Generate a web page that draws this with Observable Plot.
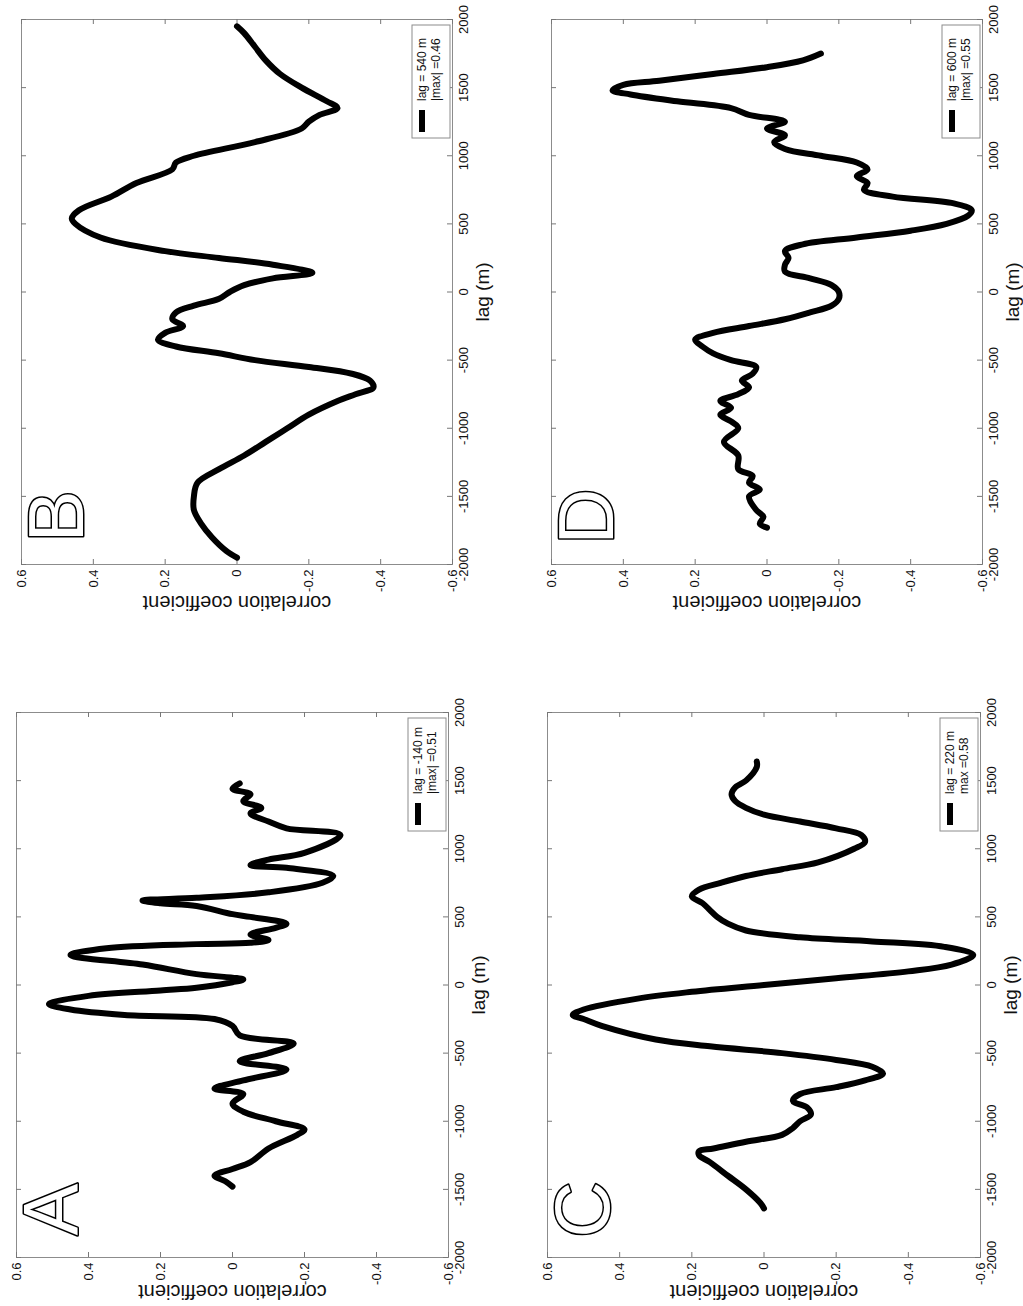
<!DOCTYPE html>
<html><head><meta charset="utf-8">
<script src="https://cdn.jsdelivr.net/npm/d3@7"></script>
<script src="https://cdn.jsdelivr.net/npm/@observablehq/plot@0.6"></script>
<style>
body{margin:0;background:#fff;}
#wrap{position:relative;width:1023px;height:1306px;overflow:hidden;background:#fff;}
.panel{position:absolute;}
</style></head><body><div id="wrap"></div>
<script>
// ---- tick values / labels ----
const corrTicks = [0.6, 0.4, 0.2, 0, -0.2, -0.4, -0.6];
const corrTickLabels = ["0.6", "0.4", "0.2", "0", "-0.2", "-0.4", "-0.6"];
const lagTicks = [-2000, -1500, -1000, -500, 0, 500, 1000, 1500, 2000];
const lagTickLabels = ["-2000", "-1500", "-1000", "-500", "0", "500", "1000", "1500", "2000"];
const xLabel = "correlation coefficient";
const yLabel = "lag (m)";

// ---- panel texts ----
const panelLetters = ["B", "D", "A", "C"];
const legendLine1 = ["lag = 540 m", "lag = 600 m", "lag = -140 m", "lag = 220 m"];
const legendLine2 = ["|max| =0.46", "|max| =0.55", "|max| =0.51", "max =0.58"];

// ---- series (lag in m, correlation coefficient) ----
const lagB = [-1950,-1900,-1800,-1700,-1600,-1500,-1400,-1300,-1200,-1100,-1000,-900,-800,-750,-700,-650,-600,-550,-500,-450,-400,-350,-300,-250,-200,-150,-100,-50,0,50,100,140,200,250,300,400,500,540,600,700,800,900,950,1000,1100,1200,1250,1300,1350,1400,1500,1600,1700,1800,1900,1950];
const corrB = [0.0,0.03,0.07,0.10,0.12,0.12,0.11,0.05,-0.02,-0.08,-0.14,-0.20,-0.28,-0.33,-0.38,-0.37,-0.32,-0.20,-0.05,0.05,0.17,0.22,0.20,0.15,0.18,0.17,0.12,0.05,0.02,-0.02,-0.10,-0.21,-0.10,0.05,0.20,0.38,0.45,0.46,0.44,0.35,0.28,0.18,0.17,0.12,-0.05,-0.18,-0.20,-0.23,-0.28,-0.25,-0.18,-0.12,-0.08,-0.05,-0.02,0.0];

const lagD = [-1730,-1700,-1650,-1600,-1500,-1450,-1400,-1350,-1300,-1200,-1100,-1000,-950,-900,-850,-800,-750,-700,-650,-600,-550,-500,-450,-400,-350,-300,-250,-200,-150,-100,-50,0,50,100,150,200,250,300,350,400,450,500,560,600,650,700,750,800,850,900,950,1000,1050,1100,1150,1200,1250,1300,1350,1400,1450,1480,1520,1550,1600,1650,1700,1750];
const corrD = [0.0,0.02,0.01,0.03,0.05,0.02,0.05,0.04,0.08,0.08,0.12,0.08,0.10,0.13,0.10,0.13,0.08,0.05,0.07,0.04,0.03,0.10,0.15,0.18,0.20,0.15,0.05,-0.05,-0.12,-0.18,-0.20,-0.20,-0.18,-0.12,-0.05,-0.05,-0.06,-0.05,-0.10,-0.25,-0.40,-0.50,-0.56,-0.57,-0.52,-0.35,-0.27,-0.28,-0.25,-0.28,-0.25,-0.15,-0.05,-0.02,-0.05,0.0,-0.05,0.05,0.10,0.25,0.38,0.43,0.40,0.30,0.15,0.0,-0.10,-0.15];

const lagA = [-1480,-1440,-1400,-1350,-1300,-1200,-1100,-1060,-1000,-930,-870,-800,-760,-700,-620,-560,-500,-430,-370,-300,-250,-220,-180,-140,-80,-40,-20,20,40,80,150,220,270,300,310,330,370,420,450,500,520,580,600,620,640,680,750,800,860,880,920,970,1100,1150,1200,1260,1300,1350,1400,1440,1480];
const corrA = [0.0,0.02,0.05,0.0,-0.05,-0.10,-0.18,-0.20,-0.12,-0.03,0.0,-0.03,0.05,-0.03,-0.15,-0.02,-0.10,-0.17,-0.02,0.0,0.05,0.30,0.45,0.51,0.40,0.20,0.10,0.0,-0.03,0.10,0.25,0.45,0.35,0.10,-0.05,-0.10,-0.05,-0.12,-0.15,-0.05,0.0,0.10,0.20,0.25,0.10,-0.10,-0.25,-0.28,-0.15,-0.05,-0.10,-0.20,-0.30,-0.15,-0.10,-0.05,-0.08,-0.03,-0.05,0.0,-0.02];

const lagC = [-1640,-1600,-1500,-1400,-1300,-1250,-1220,-1200,-1150,-1100,-1050,-1000,-950,-900,-850,-800,-750,-700,-650,-600,-550,-500,-450,-400,-300,-250,-220,-180,-100,-50,0,50,100,150,220,280,320,350,400,450,500,550,600,650,700,750,800,850,900,1000,1050,1100,1150,1200,1250,1300,1350,1400,1450,1500,1600,1640];
const corrC = [0.0,0.01,0.05,0.10,0.15,0.18,0.18,0.14,0.05,-0.05,-0.08,-0.10,-0.13,-0.12,-0.08,-0.10,-0.20,-0.28,-0.33,-0.30,-0.20,-0.05,0.15,0.30,0.45,0.50,0.53,0.50,0.35,0.20,0.0,-0.20,-0.40,-0.52,-0.58,-0.50,-0.30,-0.10,0.05,0.10,0.13,0.15,0.17,0.20,0.18,0.12,0.05,-0.05,-0.15,-0.25,-0.28,-0.27,-0.20,-0.10,0.0,0.05,0.08,0.09,0.08,0.05,0.02,0.02];

const seriesLags = [lagB, lagD, lagA, lagC];
const seriesCorrs = [corrB, corrD, corrA, corrC];

// ---- layout (pixels) ----
const W = 511, H = 653;
const boxes = [
  {left: 0,   top: 0,   ml: 21, mr: 59, mt: 19, mb: 89, labDy: 38},
  {left: 512, top: 0,   ml: 39, mr: 41, mt: 19, mb: 89, labDy: 38},
  {left: 0,   top: 653, ml: 16, mr: 63, mt: 59, mb: 49, labDy: 34},
  {left: 512, top: 653, ml: 35, mr: 43, mt: 59, mb: 49, labDy: 34}
];
const FONT = "'Liberation Sans', Arial, Helvetica, sans-serif";
const wrap = document.getElementById("wrap");

boxes.forEach((b, k) => {
  const data = seriesLags[k].map((lag, i) => ({lag, corr: seriesCorrs[k][i]}));
  const fw = W - b.ml - b.mr, fh = H - b.mt - b.mb;
  const svg = Plot.plot({
    width: W, height: H,
    marginLeft: b.ml, marginRight: b.mr, marginTop: b.mt, marginBottom: b.mb,
    x: {domain: [0.6, -0.6], axis: null},
    y: {domain: [-2000, 2000], axis: null},
    style: {fontFamily: FONT, background: "transparent", overflow: "visible", color: "#111"},
    marks: [
      Plot.frame({stroke: "#8c8c8c", strokeWidth: 1}),
      Plot.tickX(corrTicks, {x: d => d, insetTop: fh - 5, stroke: "#777"}),
      Plot.tickX(corrTicks, {x: d => d, insetBottom: fh - 5, stroke: "#777"}),
      Plot.tickY(lagTicks, {y: d => d, insetLeft: fw - 5, stroke: "#777"}),
      Plot.tickY(lagTicks, {y: d => d, insetRight: fw - 5, stroke: "#777"}),
      Plot.text(corrTicks, {x: d => d, frameAnchor: "bottom", dy: 5, rotate: -90,
        textAnchor: "end", lineAnchor: "middle", fontSize: 13, fill: "#111",
        text: (d, i) => corrTickLabels[i]}),
      Plot.text(lagTicks, {y: d => d, frameAnchor: "right", dx: 11, rotate: -90,
        textAnchor: "middle", lineAnchor: "middle", fontSize: 13, fill: "#111",
        text: (d, i) => lagTickLabels[i]}),
      Plot.text([yLabel], {frameAnchor: "right", dx: 30, rotate: -90, textAnchor: "middle",
        lineAnchor: "middle", fontSize: 19, fill: "#111", text: d => d}),
      Plot.text([xLabel], {frameAnchor: "bottom", dy: b.labDy, rotate: 180, textAnchor: "middle",
        lineAnchor: "middle", fontSize: 20, fill: "#111", text: d => d}),
      Plot.text([panelLetters[k]], {frameAnchor: "bottom-left", dx: 37, dy: -48, rotate: -90,
        textAnchor: "middle", lineAnchor: "middle", fontSize: 78, fill: "white",
        stroke: "black", strokeWidth: 3, text: d => d}),
      Plot.line(data, {x: "corr", y: "lag", stroke: "black", strokeWidth: 6,
        curve: "catmull-rom", strokeLinejoin: "round", strokeLinecap: "round"})
    ]
  });
  // legend box (top-right corner of the frame)
  const s = d3.select(svg);
  const fr = W - b.mr, ft = b.mt;
  const bx = fr - 40, by = ft + 6, bw = 38, bh = 113;
  const g = s.append("g").attr("font-family", FONT).attr("font-size", 12)
    .attr("fill", "#111").attr("text-anchor", "start");
  g.append("rect").attr("x", bx).attr("y", by).attr("width", bw).attr("height", bh)
    .attr("fill", "white").attr("stroke", "#8c8c8c");
  g.append("line").attr("x1", bx + 10).attr("x2", bx + 10)
    .attr("y1", by + bh - 6).attr("y2", by + bh - 28)
    .attr("stroke", "black").attr("stroke-width", 6);
  g.append("text").attr("text-anchor", "start")
    .attr("transform", `translate(${bx + 14},${by + bh - 37}) rotate(-90)`)
    .text(legendLine1[k]);
  g.append("text").attr("text-anchor", "start")
    .attr("transform", `translate(${bx + 28},${by + bh - 37}) rotate(-90)`)
    .text(legendLine2[k]);
  svg.classList.add("panel");
  svg.style.left = b.left + "px";
  svg.style.top = b.top + "px";
  wrap.appendChild(svg);
});
</script>
</body></html>
